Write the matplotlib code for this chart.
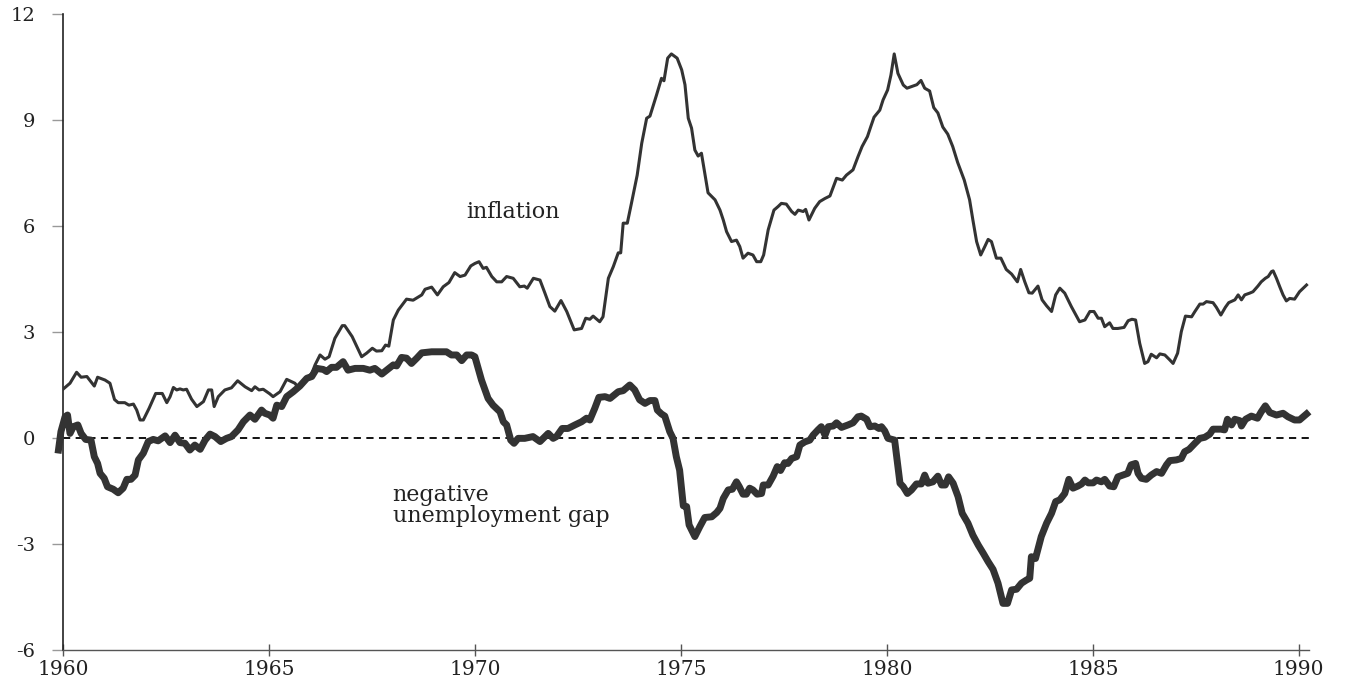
import matplotlib
matplotlib.use("Agg")
import matplotlib.pyplot as plt

plt.rcParams['font.family'] = ['DejaVu Serif']
plt.rcParams['axes.unicode_minus'] = False

# ---- data ----
infl_year = [1960.00, 1960.17, 1960.33, 1960.44, 1960.58, 1960.76, 1960.84, 1961.02, 1961.14, 1961.25,
             1961.34, 1961.50, 1961.60, 1961.71, 1961.79, 1961.87, 1961.95, 1962.09, 1962.25, 1962.41,
             1962.52, 1962.60, 1962.68, 1962.76, 1962.84, 1962.92, 1963.00, 1963.12, 1963.25, 1963.41,
             1963.53, 1963.61, 1963.67, 1963.77, 1963.93, 1964.09, 1964.24, 1964.42, 1964.58, 1964.66,
             1964.76, 1964.86, 1965.02, 1965.10, 1965.27, 1965.43, 1965.63, 1965.71, 1965.87, 1966.04,
             1966.12, 1966.24, 1966.36, 1966.46, 1966.60, 1966.78, 1966.84, 1967.02, 1967.25, 1967.37,
             1967.51, 1967.61, 1967.74, 1967.83, 1967.91, 1968.02, 1968.14, 1968.34, 1968.50, 1968.71,
             1968.79, 1968.95, 1969.09, 1969.23, 1969.37, 1969.51, 1969.64, 1969.76, 1969.90, 1970.00,
             1970.10, 1970.20, 1970.28, 1970.41, 1970.53, 1970.65, 1970.77, 1970.93, 1971.09, 1971.20,
             1971.27, 1971.42, 1971.58, 1971.70, 1971.82, 1971.94, 1972.09, 1972.23, 1972.41, 1972.59,
             1972.69, 1972.79, 1972.87, 1973.03, 1973.11, 1973.24, 1973.36, 1973.48, 1973.54, 1973.60,
             1973.70, 1973.80, 1973.94, 1974.05, 1974.17, 1974.25, 1974.41, 1974.53, 1974.59, 1974.68,
             1974.77, 1974.91, 1975.02, 1975.10, 1975.18, 1975.26, 1975.34, 1975.42, 1975.50, 1975.66,
             1975.83, 1975.95, 1976.03, 1976.11, 1976.23, 1976.35, 1976.43, 1976.51, 1976.63, 1976.75,
             1976.84, 1976.94, 1977.01, 1977.12, 1977.26, 1977.36, 1977.44, 1977.56, 1977.69, 1977.77,
             1977.85, 1977.97, 1978.03, 1978.11, 1978.25, 1978.37, 1978.50, 1978.62, 1978.70, 1978.78,
             1978.92, 1979.02, 1979.18, 1979.30, 1979.40, 1979.53, 1979.61, 1979.69, 1979.83, 1979.91,
             1980.02, 1980.10, 1980.18, 1980.27, 1980.40, 1980.49, 1980.61, 1980.73, 1980.83, 1980.92,
             1981.04, 1981.14, 1981.24, 1981.36, 1981.48, 1981.60, 1981.72, 1981.88, 1982.01, 1982.09,
             1982.18, 1982.28, 1982.38, 1982.46, 1982.54, 1982.66, 1982.77, 1982.90, 1983.03, 1983.17,
             1983.25, 1983.35, 1983.45, 1983.53, 1983.67, 1983.77, 1983.88, 1984.00, 1984.10, 1984.20,
             1984.32, 1984.48, 1984.68, 1984.81, 1984.93, 1985.03, 1985.13, 1985.21, 1985.29, 1985.41,
             1985.49, 1985.61, 1985.76, 1985.86, 1985.95, 1986.04, 1986.14, 1986.26, 1986.34, 1986.42,
             1986.55, 1986.63, 1986.75, 1986.87, 1986.95, 1987.06, 1987.15, 1987.25, 1987.40, 1987.48,
             1987.60, 1987.68, 1987.76, 1987.92, 1988.00, 1988.11, 1988.22, 1988.30, 1988.45, 1988.53,
             1988.61, 1988.69, 1988.81, 1988.89, 1989.01, 1989.09, 1989.19, 1989.26, 1989.34, 1989.38,
             1989.46, 1989.54, 1989.62, 1989.70, 1989.78, 1989.90, 1990.02, 1990.11, 1990.19]
inflation = [1.38, 1.55, 1.86, 1.72, 1.74, 1.47, 1.72, 1.64, 1.55, 1.09,
             1.00, 1.00, 0.93, 0.96, 0.79, 0.51, 0.51, 0.84, 1.26, 1.26,
             1.00, 1.17, 1.43, 1.36, 1.39, 1.36, 1.38, 1.10, 0.89, 1.03,
             1.36, 1.36, 0.89, 1.17, 1.36, 1.42, 1.62, 1.45, 1.34, 1.45,
             1.36, 1.38, 1.25, 1.17, 1.31, 1.66, 1.55, 1.43, 1.64, 1.83,
             2.07, 2.35, 2.23, 2.30, 2.82, 3.18, 3.18, 2.87, 2.30, 2.40,
             2.54, 2.46, 2.47, 2.63, 2.60, 3.34, 3.62, 3.93, 3.90, 4.05,
             4.21, 4.27, 4.05, 4.28, 4.40, 4.68, 4.57, 4.61, 4.87, 4.94,
             4.99, 4.80, 4.83, 4.57, 4.42, 4.42, 4.57, 4.52, 4.28, 4.30,
             4.24, 4.52, 4.47, 4.10, 3.72, 3.59, 3.89, 3.58, 3.06, 3.10,
             3.39, 3.36, 3.45, 3.29, 3.43, 4.52, 4.85, 5.24, 5.24, 6.08,
             6.08, 6.64, 7.44, 8.34, 9.05, 9.11, 9.71, 10.18, 10.11, 10.75,
             10.87, 10.75, 10.42, 10.00, 9.05, 8.77, 8.15, 7.98, 8.06, 6.94,
             6.74, 6.45, 6.17, 5.84, 5.56, 5.60, 5.42, 5.09, 5.23, 5.18,
             4.99, 4.99, 5.18, 5.89, 6.45, 6.55, 6.64, 6.62, 6.41, 6.33,
             6.45, 6.41, 6.47, 6.17, 6.50, 6.69, 6.78, 6.85, 7.10, 7.35,
             7.30, 7.44, 7.59, 7.96, 8.25, 8.53, 8.81, 9.08, 9.28, 9.57,
             9.85, 10.27, 10.87, 10.32, 9.99, 9.90, 9.95, 10.00, 10.12, 9.90,
             9.82, 9.35, 9.20, 8.80, 8.60, 8.25, 7.80, 7.30, 6.74, 6.17,
             5.56, 5.18, 5.42, 5.62, 5.56, 5.09, 5.09, 4.77, 4.64, 4.42,
             4.77, 4.42, 4.11, 4.10, 4.30, 3.91, 3.74, 3.58, 4.05, 4.24,
             4.10, 3.72, 3.29, 3.34, 3.58, 3.58, 3.39, 3.39, 3.15, 3.26,
             3.10, 3.10, 3.13, 3.32, 3.36, 3.34, 2.68, 2.11, 2.16, 2.37,
             2.27, 2.38, 2.35, 2.21, 2.11, 2.40, 3.01, 3.45, 3.43, 3.58,
             3.79, 3.79, 3.86, 3.83, 3.70, 3.48, 3.70, 3.83, 3.91, 4.05,
             3.91, 4.05, 4.10, 4.14, 4.30, 4.42, 4.52, 4.57, 4.71, 4.73,
             4.52, 4.28, 4.05, 3.88, 3.95, 3.93, 4.14, 4.24, 4.33]

gap_year = [1959.89, 1959.95, 1960.05, 1960.11, 1960.17, 1960.25, 1960.36, 1960.44, 1960.55, 1960.68,
            1960.76, 1960.84, 1960.90, 1961.00, 1961.08, 1961.22, 1961.34, 1961.46, 1961.55, 1961.65,
            1961.75, 1961.83, 1961.95, 1962.07, 1962.19, 1962.31, 1962.48, 1962.60, 1962.72, 1962.84,
            1962.96, 1963.08, 1963.20, 1963.33, 1963.45, 1963.57, 1963.69, 1963.83, 1963.97, 1964.09,
            1964.25, 1964.38, 1964.54, 1964.66, 1964.82, 1964.90, 1965.02, 1965.10, 1965.19, 1965.31,
            1965.43, 1965.59, 1965.75, 1965.92, 1966.04, 1966.16, 1966.32, 1966.40, 1966.52, 1966.64,
            1966.80, 1966.92, 1967.09, 1967.29, 1967.45, 1967.57, 1967.74, 1967.86, 1968.02, 1968.10,
            1968.22, 1968.34, 1968.46, 1968.59, 1968.71, 1968.95, 1969.31, 1969.43, 1969.56, 1969.68,
            1969.80, 1969.92, 1970.00, 1970.16, 1970.32, 1970.44, 1970.61, 1970.69, 1970.77, 1970.87,
            1970.95, 1971.05, 1971.21, 1971.41, 1971.58, 1971.70, 1971.78, 1971.90, 1971.98, 1972.12,
            1972.26, 1972.43, 1972.59, 1972.71, 1972.79, 1972.91, 1973.01, 1973.16, 1973.28, 1973.48,
            1973.60, 1973.76, 1973.88, 1974.00, 1974.13, 1974.25, 1974.37, 1974.43, 1974.53, 1974.61,
            1974.73, 1974.81, 1974.89, 1974.97, 1975.06, 1975.14, 1975.20, 1975.34, 1975.46, 1975.58,
            1975.75, 1975.87, 1975.95, 1976.03, 1976.15, 1976.25, 1976.35, 1976.42, 1976.51, 1976.59,
            1976.67, 1976.75, 1976.85, 1976.96, 1977.00, 1977.12, 1977.24, 1977.34, 1977.42, 1977.52,
            1977.60, 1977.69, 1977.81, 1977.89, 1978.01, 1978.13, 1978.21, 1978.33, 1978.41, 1978.50,
            1978.58, 1978.70, 1978.78, 1978.90, 1979.06, 1979.18, 1979.30, 1979.38, 1979.51, 1979.59,
            1979.71, 1979.81, 1979.87, 1979.95, 1980.03, 1980.19, 1980.32, 1980.40, 1980.50, 1980.60,
            1980.72, 1980.84, 1980.92, 1981.00, 1981.12, 1981.24, 1981.33, 1981.42, 1981.50, 1981.61,
            1981.73, 1981.83, 1981.97, 1982.09, 1982.22, 1982.34, 1982.46, 1982.58, 1982.70, 1982.82,
            1982.93, 1983.03, 1983.15, 1983.27, 1983.39, 1983.47, 1983.51, 1983.61, 1983.75, 1983.88,
            1984.00, 1984.10, 1984.20, 1984.32, 1984.42, 1984.52, 1984.64, 1984.73, 1984.81, 1984.89,
            1985.01, 1985.09, 1985.21, 1985.29, 1985.41, 1985.51, 1985.61, 1985.73, 1985.85, 1985.93,
            1986.04, 1986.10, 1986.18, 1986.30, 1986.42, 1986.55, 1986.67, 1986.79, 1986.87, 1987.03,
            1987.15, 1987.23, 1987.34, 1987.48, 1987.60, 1987.72, 1987.84, 1987.92, 1988.11, 1988.20,
            1988.27, 1988.37, 1988.45, 1988.57, 1988.61, 1988.71, 1988.85, 1989.00, 1989.09, 1989.19,
            1989.30, 1989.46, 1989.62, 1989.74, 1989.90, 1990.02, 1990.11, 1990.19]
neg_unemp_gap = [-0.34, 0.18, 0.60, 0.65, 0.13, 0.32, 0.37, 0.13, -0.04, -0.06,
                 -0.53, -0.72, -1.00, -1.14, -1.38, -1.45, -1.55, -1.42, -1.17, -1.17,
                 -1.05, -0.62, -0.43, -0.10, -0.04, -0.08, 0.06, -0.13, 0.08, -0.13,
                 -0.15, -0.34, -0.20, -0.32, -0.06, 0.11, 0.04, -0.10, -0.01, 0.04,
                 0.23, 0.46, 0.65, 0.53, 0.79, 0.70, 0.65, 0.56, 0.93, 0.89,
                 1.17, 1.31, 1.47, 1.69, 1.74, 1.97, 1.94, 1.88, 2.00, 2.00,
                 2.16, 1.92, 1.97, 1.97, 1.92, 1.97, 1.81, 1.92, 2.07, 2.04,
                 2.28, 2.26, 2.11, 2.26, 2.41, 2.44, 2.44, 2.35, 2.35, 2.19,
                 2.35, 2.35, 2.30, 1.64, 1.12, 0.93, 0.74, 0.46, 0.37, -0.06,
                 -0.15, -0.01, -0.01, 0.04, -0.10, 0.04, 0.13, -0.01, 0.04, 0.27,
                 0.27, 0.37, 0.46, 0.56, 0.51, 0.84, 1.15, 1.17, 1.12, 1.31,
                 1.34, 1.50, 1.36, 1.08, 0.98, 1.06, 1.06, 0.79, 0.68, 0.62,
                 0.18, -0.01, -0.53, -0.91, -1.92, -1.94, -2.46, -2.79, -2.51, -2.25,
                 -2.23, -2.11, -1.99, -1.71, -1.47, -1.45, -1.24, -1.38, -1.59, -1.59,
                 -1.42, -1.47, -1.59, -1.57, -1.33, -1.33, -1.08, -0.81, -0.92, -0.70,
                 -0.72, -0.58, -0.53, -0.20, -0.11, -0.06, 0.08, 0.23, 0.32, 0.08,
                 0.32, 0.34, 0.43, 0.30, 0.37, 0.43, 0.60, 0.62, 0.53, 0.32,
                 0.34, 0.27, 0.32, 0.20, -0.01, -0.06, -1.28, -1.38, -1.57, -1.47,
                 -1.30, -1.30, -1.05, -1.28, -1.24, -1.08, -1.33, -1.33, -1.10, -1.28,
                 -1.66, -2.13, -2.41, -2.75, -3.03, -3.26, -3.50, -3.72, -4.11, -4.68,
                 -4.68, -4.30, -4.28, -4.11, -4.02, -3.97, -3.36, -3.41, -2.79, -2.41,
                 -2.13, -1.80, -1.75, -1.57, -1.17, -1.42, -1.36, -1.30, -1.19, -1.27,
                 -1.27, -1.19, -1.24, -1.17, -1.36, -1.38, -1.10, -1.05, -1.00, -0.76,
                 -0.72, -1.00, -1.14, -1.17, -1.05, -0.95, -1.00, -0.76, -0.64, -0.62,
                 -0.58, -0.39, -0.32, -0.15, -0.01, 0.02, 0.11, 0.25, 0.25, 0.23,
                 0.53, 0.37, 0.53, 0.49, 0.34, 0.53, 0.62, 0.56, 0.74, 0.91,
                 0.72, 0.65, 0.70, 0.60, 0.51, 0.51, 0.60, 0.68]

x_ticks = [1960, 1965, 1970, 1975, 1980, 1985, 1990]
y_ticks = [-6, -3, 0, 3, 6, 9, 12]

# ---- figure ----
fig = plt.figure(figsize=(13.48, 6.85), dpi=100)
ax = fig.add_axes([63 / 1348, 1 - 650 / 685, (1309 - 63) / 1348, 636 / 685])

line_color = '#333333'
ax.axhline(0, color='black', lw=1.3, ls=(0, (4, 3)), zorder=1)
ax.plot(infl_year, inflation, color=line_color, lw=2.2, zorder=3,
        solid_joinstyle='round')
ax.plot(gap_year, neg_unemp_gap, color=line_color, lw=5.0, zorder=3,
        solid_joinstyle='round', clip_on=False)

ax.set_xlim(1960, 1990.25)
ax.set_ylim(-6, 12)
ax.set_xticks(x_ticks)
ax.set_yticks(y_ticks)
ax.set_xticklabels([str(t) for t in x_ticks])
ax.set_yticklabels([str(t) for t in y_ticks])

for s in ['top', 'right']:
    ax.spines[s].set_visible(False)
ax.spines['left'].set_color('#222222')
ax.spines['left'].set_linewidth(1.2)
ax.spines['bottom'].set_color('#555555')
ax.spines['bottom'].set_linewidth(1.0)

ax.tick_params(axis='y', direction='out', length=8, width=1, color='#999999',
               labelsize=14, pad=12, labelcolor='#222222')
ax.tick_params(axis='x', direction='inout', length=8, width=1, color='#555555',
               labelsize=14.5, pad=3, labelcolor='#222222')

ax.text(1970.92, 6.4, 'inflation', fontsize=16, color='#222222',
        ha='center', va='center')
ax.text(1968.0, -1.62, 'negative', fontsize=16, color='#222222',
        ha='left', va='center')
ax.text(1968.0, -2.22, 'unemployment gap', fontsize=16, color='#222222',
        ha='left', va='center')

fig.savefig('out.png', dpi=100)
